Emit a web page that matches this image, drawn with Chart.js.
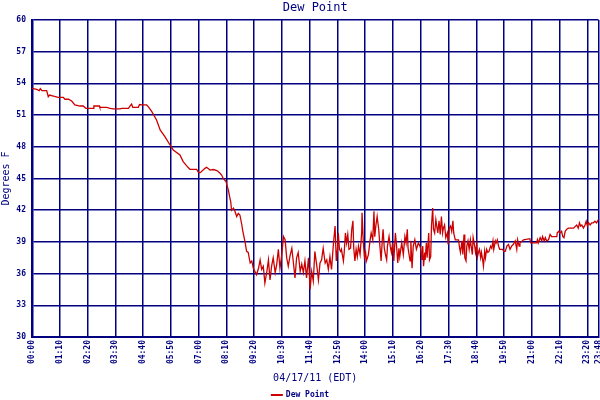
<!DOCTYPE html>
<html>
<head>
<meta charset="utf-8">
<script src="https://cdn.jsdelivr.net/npm/chart.js@4/dist/chart.umd.min.js"></script>
<style>
  html, body { margin: 0; padding: 0; background: #fff; }
  canvas { display: block; }
</style>
</head>
<body>
<canvas id="dewChart" width="600" height="400"></canvas>
<script>
const chartTitle = "Dew Point";
const seriesName = "Dew Point";
const xTitle = "04/17/11 (EDT)";
const yTitle = "Degrees F";

// x tick positions (minutes after midnight) and their labels
const tickMinutes = [0, 70, 140, 210, 280, 350, 420, 490, 560, 630, 700, 770, 840, 910, 980, 1050, 1120, 1190, 1260, 1330, 1400, 1428];
const tickLabels = ["00:00", "01:10", "02:20", "03:30", "04:40", "05:50", "07:00", "08:10", "09:20", "10:30", "11:40",
  "12:50", "14:00", "15:10", "16:20", "17:30", "18:40", "19:50", "21:00", "22:10", "23:20", "23:48"];

// reading times (minutes after midnight)
const times = [
  0, 12, 18, 21, 25, 37, 41, 44, 54, 66, 79, 83, 92, 100, 108, 121, 129, 136, 155, 156,
  170, 171, 188, 197, 205, 222, 226, 243, 247, 251, 254, 268, 271, 277, 289, 293, 302, 314, 323, 335,
  348, 356, 373, 381, 390, 398, 415, 420, 424, 436, 440, 449, 457, 466, 474, 478, 482, 489, 495, 498,
  501, 503, 508, 512, 516, 520, 524, 529, 531, 537,
  541, 545, 550, 554, 558, 562, 566, 571, 575, 579, 583, 587, 592, 596, 600, 604, 608, 613, 617, 621,
  625, 629, 634, 638, 642, 646, 650, 655, 659, 663, 667, 671, 676, 680, 684, 688, 692, 697, 701, 705,
  709, 713, 718, 722, 726, 730, 734, 739, 743, 747, 751, 755, 760, 764,
  767, 770, 772, 775, 778, 780, 785, 787, 790, 793, 796, 799, 803, 806, 809, 811, 814, 817, 820, 823,
  827, 831, 832, 835, 838, 841, 843, 848, 852, 855, 859, 862, 864, 867, 870, 874, 877, 880, 883, 885,
  888, 891, 894, 896, 900, 903, 906, 909, 912, 916, 919, 922, 925, 927, 932, 936, 940, 943, 946, 948,
  953, 955, 958, 961, 965, 969, 974, 978,
  980, 983, 985, 987, 990, 991, 994, 996, 1000, 1002, 1005, 1007, 1010, 1012, 1015, 1018, 1021, 1023, 1026, 1029,
  1032, 1035, 1037, 1040, 1043, 1047, 1049, 1052, 1055, 1058, 1061, 1063, 1067, 1075, 1078, 1080, 1084, 1086, 1089, 1091,
  1094, 1096, 1099, 1102, 1105, 1107, 1110, 1112, 1116, 1118, 1121, 1123, 1126, 1128, 1131, 1133, 1136, 1138, 1141, 1143,
  1146, 1149, 1152, 1156, 1159, 1162, 1164, 1168, 1170, 1173, 1176, 1179, 1183, 1186, 1189, 1193,
  1197, 1201, 1205, 1209, 1213, 1218, 1222, 1224, 1228, 1230, 1239, 1255, 1257, 1272, 1274, 1276, 1281, 1285, 1287, 1291,
  1294, 1297, 1302, 1306, 1310, 1323, 1324, 1328, 1331, 1335, 1338, 1341, 1344, 1348, 1352, 1365, 1373, 1377, 1380, 1383,
  1386, 1390, 1394, 1397, 1400, 1403, 1407, 1411, 1415, 1419, 1423, 1428
];

// dew point readings (deg F)
const dewPoint = [
  53.54, 53.44, 53.31, 53.5, 53.31, 53.31, 52.74, 52.9, 52.8, 52.68, 52.68, 52.5, 52.5, 52.33, 51.96, 51.86, 51.86, 51.64, 51.64, 51.86,
  51.86, 51.74, 51.74, 51.64, 51.58, 51.58, 51.64, 51.64, 51.86, 52.05, 51.74, 51.74, 52.0, 51.96, 51.96, 51.8, 51.33, 50.54, 49.6, 48.96,
  48.17, 47.7, 47.22, 46.6, 46.2, 45.87, 45.87, 45.55, 45.55, 45.96, 46.06, 45.8, 45.85, 45.75, 45.5, 45.33, 45.0, 44.7, 43.9, 43.3,
  42.8, 42.0, 42.2, 41.86, 41.4, 41.7, 41.55, 40.6, 40.1, 39.0,
  38.1, 38.0, 37.0, 37.2, 36.5, 36.2, 35.9, 36.5, 37.3, 36.4, 36.7, 35.1, 36.2, 37.3, 35.4, 36.7, 37.5, 36.1, 36.9, 38.3,
  36.5, 37.6, 39.5, 39.2, 37.5, 36.7, 37.6, 38.4, 37.0, 35.6, 37.5, 38.0, 36.2, 36.9, 36.1, 37.2, 35.6, 37.5, 34.5, 36.2,
  35.3, 38.1, 36.7, 35.4, 37.0, 37.3, 38.4, 37.0, 37.3, 36.4, 37.6, 36.4, 38.9, 40.5,
  37.2, 38.3, 39.85, 38.3, 38.1, 38.3, 37.2, 38.0, 39.85, 38.9, 39.7, 38.3, 38.4, 40.2, 41.0, 38.4, 37.2, 38.3, 37.6, 38.6,
  37.8, 39.85, 41.75, 39.1, 37.5, 38.0, 37.2, 37.8, 39.1, 39.85, 39.2, 41.9, 39.5, 40.6, 41.4, 40.2, 38.6, 37.2, 39.2, 40.2,
  38.4, 37.8, 37.3, 38.6, 39.5, 38.6, 38.0, 38.9, 37.2, 39.85, 38.6, 37.0, 38.4, 37.6, 38.9, 37.8, 39.5, 38.9, 40.2, 38.4,
  37.2, 39.1, 36.5, 38.6, 39.2, 38.3, 38.9, 38.6,
  38.3, 37.3, 38.6, 36.7, 38.0, 37.3, 38.9, 37.5, 39.85, 37.3, 37.6, 40.5, 42.2, 40.2, 39.85, 41.1, 40.3, 39.85, 41.0, 39.7,
  41.4, 39.85, 40.3, 40.6, 39.4, 39.85, 38.75, 40.3, 40.5, 40.0, 41.0, 39.85, 39.2, 39.2, 38.4, 38.0, 39.1, 37.8, 39.7, 37.5,
  37.2, 38.6, 39.1, 38.3, 39.2, 38.6, 37.8, 39.4, 38.6, 38.0, 38.75, 37.6, 38.1, 38.3, 37.5, 38.0, 37.3, 36.7, 38.1, 37.5,
  38.3, 38.0, 38.1, 38.6, 38.4, 39.1, 38.3, 39.1, 38.9, 39.2, 38.6, 38.3, 38.3, 38.3, 38.1, 38.1,
  38.6, 38.75, 38.3, 38.6, 38.75, 39.1, 38.3, 39.2, 38.6, 38.9, 39.2, 39.3, 38.9, 38.9, 39.2, 38.9, 39.4, 39.1, 39.5, 39.1,
  39.4, 39.1, 39.2, 39.7, 39.5, 39.5, 39.85, 40.0, 39.85, 40.0, 39.5, 39.4, 40.0, 40.2, 40.3, 40.3, 40.6, 40.3, 40.8, 40.5,
  40.6, 40.3, 40.6, 40.96, 40.5, 40.8, 40.6, 40.8, 40.8, 40.96, 40.8, 41.1
];

const navy = "#000080";
const red = "#cc0000";
const mono = '"DejaVu Sans Mono", monospace';

// chart title above the plot and the little key under it
const headerAndKey = {
  id: "headerAndKey",
  afterDraw(chart) {
    const ctx = chart.ctx;
    const area = chart.chartArea;
    ctx.save();
    ctx.fillStyle = navy;
    ctx.textBaseline = "middle";
    ctx.textAlign = "center";
    ctx.font = "12px " + mono;
    ctx.fillText(chartTitle, (area.left + area.right) / 2, 8);

    ctx.font = "bold 8px " + mono;
    const tw = ctx.measureText(seriesName).width;
    const x0 = chart.width / 2 - (15 + tw) / 2;
    ctx.strokeStyle = red;
    ctx.lineWidth = 2;
    ctx.beginPath();
    ctx.moveTo(x0, 395);
    ctx.lineTo(x0 + 12, 395);
    ctx.stroke();
    ctx.textAlign = "left";
    ctx.fillText(seriesName, x0 + 15, 395);
    ctx.restore();
  }
};

const points = times.map((t, i) => ({ x: t, y: dewPoint[i] }));

new Chart(document.querySelector("#dewChart"), {
  type: "line",
  data: {
    datasets: [
      {
        label: seriesName,
        data: points,
        borderColor: red,
        borderWidth: 1.3,
        pointRadius: 0,
        tension: 0,
        fill: false,
      },
    ],
  },
  options: {
    responsive: false,
    animation: false,
    devicePixelRatio: 1,
    layout: { padding: { top: 20, right: 1.5, bottom: 15, left: 0 } },
    plugins: {
      legend: { display: false },
      title: { display: false },
      tooltip: { enabled: false },
    },
    scales: {
      x: {
        type: "linear",
        min: 0,
        max: 1428,
        afterBuildTicks: (scale) => {
          scale.ticks = tickMinutes.map((v) => ({ value: v }));
        },
        afterFit: (scale) => {
          scale.height = 48;
          scale.paddingLeft = 0;
          scale.paddingRight = 0;
        },
        ticks: {
          autoSkip: false,
          maxRotation: 90,
          minRotation: 90,
          padding: 3,
          color: navy,
          font: { family: mono, size: 8, weight: "bold" },
          callback: (value, index) => tickLabels[index],
        },
        grid: { color: navy, lineWidth: 1.5, drawTicks: false },
        border: { color: navy, width: 2 },
        title: {
          display: true,
          text: xTitle,
          color: navy,
          font: { family: mono, size: 10 },
          padding: { top: 0, bottom: 1 },
        },
      },
      y: {
        min: 30,
        max: 60,
        afterFit: (scale) => {
          scale.width = 32;
        },
        ticks: {
          stepSize: 3,
          padding: 6,
          color: navy,
          font: { family: mono, size: 8, weight: "bold" },
        },
        grid: { color: navy, lineWidth: 1.5, drawTicks: false },
        border: { color: navy, width: 2.5 },
        title: {
          display: true,
          text: yTitle,
          color: navy,
          font: { family: mono, size: 10 },
          padding: 0,
        },
      },
    },
  },
  plugins: [headerAndKey],
});
</script>
</body>
</html>
